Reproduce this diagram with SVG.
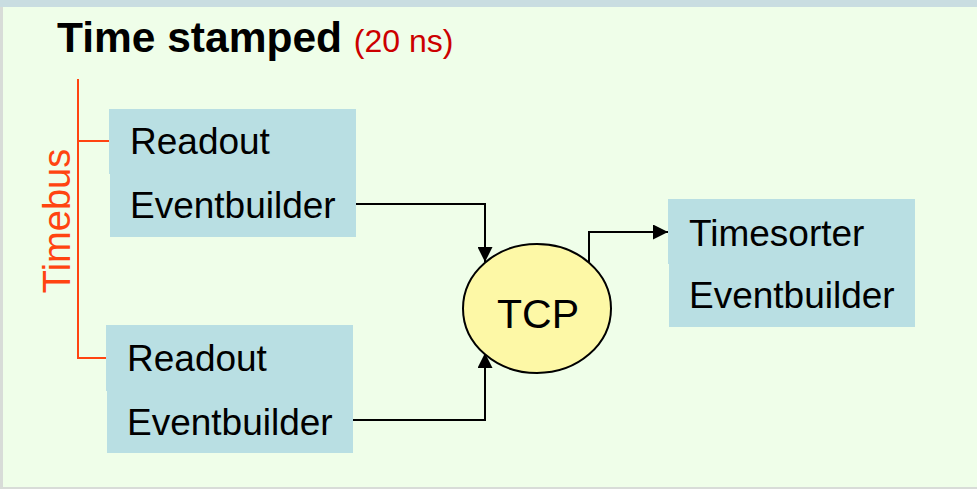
<svg xmlns="http://www.w3.org/2000/svg" width="977" height="489" viewBox="0 0 977 489">
  <defs>
    <style>
      .box { fill: #b9dfe3; }
      .lbl { font-family: "Liberation Sans", Arial, sans-serif; font-size: 37px; fill: #000; }
      .conn { fill: none; stroke: #000; stroke-width: 2; }
      .bus { fill: none; stroke: #ff4411; stroke-width: 2; }
    </style>
    <marker id="arrow" viewBox="0 0 10 10" refX="10" refY="5" markerWidth="15" markerHeight="15" markerUnits="userSpaceOnUse" orient="auto">
      <path d="M0,0 L10,5 L0,10 Z" fill="#000"/>
    </marker>
  </defs>

  <!-- frame and background -->
  <rect x="0" y="0" width="977" height="489" fill="#d8dcd8"/>
  <rect x="3" y="0" width="974" height="487" fill="#effee9"/>
  <rect x="0" y="0" width="977" height="7" fill="#c9dde1"/>

  <!-- heading -->
  <text x="57" y="52" font-family="Liberation Sans, Arial, sans-serif" font-size="42.5" font-weight="bold" fill="#000">Time stamped <tspan font-size="32" font-weight="normal" fill="#cc0000">(20 ns)</tspan></text>

  <!-- time bus -->
  <g id="timebus">
    <path class="bus" d="M78,79 V358 H107 M78,141 H109"/>
    <text transform="translate(70,221) rotate(-90)" text-anchor="middle" font-family="Liberation Sans, Arial, sans-serif" font-size="38" fill="#ff4411">Timebus</text>
  </g>

  <!-- connectors -->
  <g id="connectors">
    <path class="conn" d="M356,204 H485 V262" marker-end="url(#arrow)"/>
    <path class="conn" d="M353,420 H485 V353" marker-end="url(#arrow)"/>
    <path class="conn" d="M589,262 V232 H668" marker-end="url(#arrow)"/>
  </g>

  <!-- readout / eventbuilder 1 -->
  <g id="readout1">
    <rect class="box" x="109" y="109" width="247" height="65"/>
    <rect class="box" x="110" y="173" width="246" height="64"/>
    <text class="lbl" x="130" y="154">Readout</text>
    <text class="lbl" x="130" y="218">Eventbuilder</text>
  </g>

  <!-- readout / eventbuilder 2 -->
  <g id="readout2">
    <rect class="box" x="106" y="325" width="247" height="66"/>
    <rect class="box" x="107" y="390" width="246" height="63"/>
    <text class="lbl" x="127" y="371">Readout</text>
    <text class="lbl" x="127" y="435">Eventbuilder</text>
  </g>

  <!-- TCP -->
  <g id="tcp">
    <ellipse cx="537" cy="308.5" rx="74" ry="64.5" fill="#fdf8a6" stroke="#000" stroke-width="2"/>
    <text x="538" y="328" text-anchor="middle" font-family="Liberation Sans, Arial, sans-serif" font-size="41" fill="#000">TCP</text>
  </g>

  <!-- timesorter / eventbuilder -->
  <g id="timesorter">
    <rect class="box" x="668" y="199" width="247" height="65"/>
    <rect class="box" x="669" y="263" width="246" height="64"/>
    <text class="lbl" x="689" y="246">Timesorter</text>
    <text class="lbl" x="689" y="308">Eventbuilder</text>
  </g>
</svg>
